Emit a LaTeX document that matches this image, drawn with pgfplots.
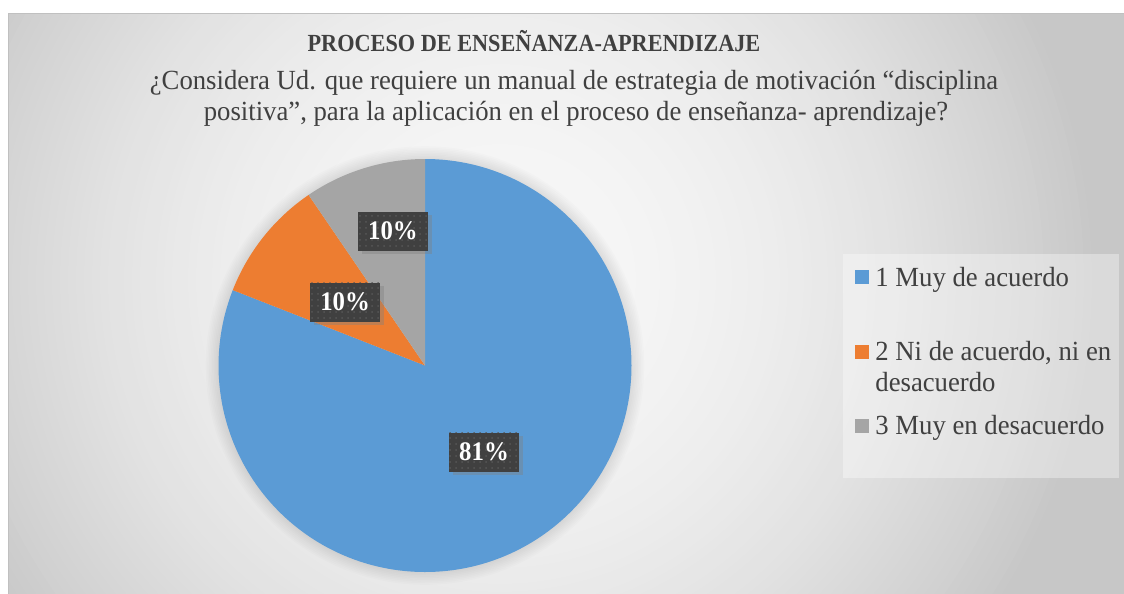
\documentclass[border=0pt]{standalone}
\usepackage{pgfplots}
\pgfplotsset{compat=1.18}
\usepackage{pgfplotstable}
\usepackage{graphicx}
\usepackage{fontspec}
\setmainfont{Liberation Serif}
\usetikzlibrary{shadows,patterns}
\definecolor{pieblue}{HTML}{5B9BD5}
\definecolor{pieorange}{HTML}{ED7D31}
\definecolor{piegray}{HTML}{A5A5A5}
\definecolor{labelbg}{HTML}{404040}
\definecolor{dotgray}{HTML}{575757}
\definecolor{textgray}{HTML}{404040}
\definecolor{bgA}{HTML}{F7F7F7}
\definecolor{bgD}{HTML}{C7C7C7}

\pgfplotstableread{
cat value
1 80.95
2 9.52
3 9.53
}\piedata

\newcommand\subfont{\fontsize{13.85}{16}\selectfont}
\newcommand\sub[1]{\scalebox{0.964}[1]{#1}}

\begin{document}
\begin{tikzpicture}[
  lbl/.style={fill=labelbg, text=white, font=\fontsize{13.4}{15}\selectfont\bfseries,
    minimum width=35pt, minimum height=19.5pt, inner sep=0pt,
    drop shadow={shadow xshift=1.8pt, shadow yshift=-1.8pt, opacity=0.4},
    postaction={pattern=dots, pattern color=dotgray}}]
\pgfplotstablegetelem{0}{value}\of\piedata \let\vA\pgfplotsretval
\pgfplotstablegetelem{1}{value}\of\piedata \let\vB\pgfplotsretval
\pgfmathsetmacro\aA{90-3.6*\vA}
\pgfmathsetmacro\aB{\aA-3.6*\vB}
\def\R{103.25pt}
\useasboundingbox (0,0) rectangle (562pt,-297pt);
\fill[white] (0,0) rectangle (562pt,-297pt);
\begin{scope}
\clip (4pt,-6.5pt) rectangle (562pt,-297pt);
\fill[bgD] (4pt,-6.5pt) rectangle (562pt,-297pt);
\foreach \r in {360,356,...,4} {
  \pgfmathsetmacro\f{min(100,100*(\r/300)^2)}
  \fill[color=bgD!\f!bgA] (250pt,-140pt) circle[radius=\r pt];
}
\end{scope}
\draw[color={rgb,255:red,192;green,192;blue,192}, line width=0.5pt] (4pt,-297pt) -- (4pt,-6.5pt) -- (562pt,-6.5pt);
% soft shadow around the pie
\foreach \d in {1,...,8} {
  \fill[black, opacity=0.012] (212.5pt,-182.75pt) circle[radius=103.25pt+\d*0.8pt];
}
\begin{axis}[at={(212.5pt,-182.75pt)}, anchor=center, scale only axis,
  width=206.5pt, height=206.5pt, xmin=-1, xmax=1, ymin=-1, ymax=1,
  hide axis, clip=false]
\addplot[fill=pieblue, draw=none] coordinates {(0,0)} -- ++(90:\R) arc[start angle=90, end angle=\aA, radius=\R] -- cycle;
\addplot[fill=pieorange, draw=none] coordinates {(0,0)} -- ++(\aA:\R) arc[start angle=\aA, end angle=\aB, radius=\R] -- cycle;
\addplot[fill=piegray, draw=none] coordinates {(0,0)} -- ++(\aB:\R) arc[start angle=\aB, end angle=-270, radius=\R] -- cycle;
\node[lbl] at (axis cs:0.286,-0.419) {\scalebox{0.926}[1]{81\%}};
\node[lbl] at (axis cs:-0.387,0.307) {\scalebox{0.926}[1]{10\%}};
\node[lbl] at (axis cs:-0.155,0.651) {\scalebox{0.926}[1]{10\%}};
\end{axis}
% titles
\node[anchor=base, inner sep=0pt, text=textgray, font=\fontsize{12.3}{14}\selectfont\bfseries] at (267pt,-25.85pt) {\scalebox{0.905}[1]{PROCESO DE ENSEÑANZA-APRENDIZAJE}};
\node[anchor=base, inner sep=0pt, text=textgray, font=\subfont] at (287pt,-44.5pt) {\sub{¿Considera Ud. que requiere un manual de estrategia de motivación “disciplina}};
\node[anchor=base, inner sep=0pt, text=textgray, font=\subfont] at (288pt,-60pt) {\sub{positiva”, para la aplicación en el proceso de enseñanza- aprendizaje?}};
% legend
\fill[white, opacity=0.35] (421.5pt,-127pt) rectangle (559.5pt,-239pt);
\fill[pieblue] (427.5pt,-135pt) rectangle (434.5pt,-142pt);
\fill[pieorange] (427.5pt,-172.5pt) rectangle (434.5pt,-179.5pt);
\fill[piegray] (427.5pt,-209.5pt) rectangle (434.5pt,-216.5pt);
\node[anchor=base west, inner sep=0pt, text=textgray, font=\subfont] at (437.5pt,-143.35pt) {\sub{1 Muy de acuerdo}};
\node[anchor=base west, inner sep=0pt, text=textgray, font=\subfont] at (437.5pt,-180pt) {\sub{2 Ni de acuerdo, ni en}};
\node[anchor=base west, inner sep=0pt, text=textgray, font=\subfont] at (437.5pt,-195.85pt) {\sub{desacuerdo}};
\node[anchor=base west, inner sep=0pt, text=textgray, font=\subfont] at (437.5pt,-217pt) {\sub{3 Muy en desacuerdo}};
\end{tikzpicture}
\end{document}
